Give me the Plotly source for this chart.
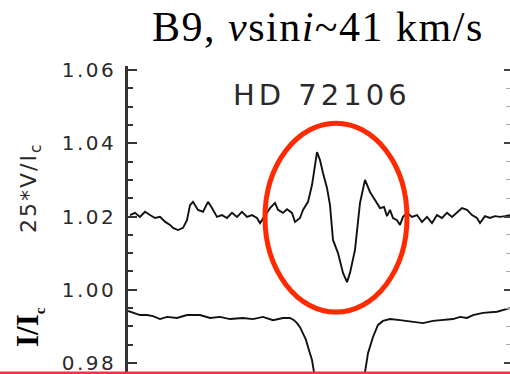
import numpy as np
import plotly.graph_objects as go

# ---------------- data (velocity in km/s, normalised values) ----------------
v_vel = [-208, -203, -198, -193, -188, -183, -178, -173, -168, -165, -160, -155, -151, -148,
         -145, -140, -135, -130, -126, -121, -116, -111, -106, -101, -96, -91, -86, -81, -78,
         -73, -68, -63, -60, -55, -51, -46, -43, -38, -35, -30, -26, -21, -18, -15, -11, -8,
         -5, 0, 5, 9, 12, 17, 22, 27, 32, 37, 42, 46, 49, 52, 55, 59, 62, 65, 69, 74, 79, 84,
         89, 94, 99, 104, 109, 114, 119, 124, 129, 134, 139, 142, 147, 152, 157, 162, 167, 172]
v_val = [1.0204, 1.0210, 1.0199, 1.0213, 1.0204, 1.0196, 1.0199, 1.0186, 1.0177, 1.0169,
         1.0163, 1.0169, 1.0190, 1.0231, 1.0240, 1.0218, 1.0213, 1.0240, 1.0223, 1.0199,
         1.0204, 1.0196, 1.0210, 1.0199, 1.0213, 1.0199, 1.0204, 1.0196, 1.0182, 1.0204,
         1.0223, 1.0237, 1.0218, 1.0210, 1.0220, 1.0210, 1.0185, 1.0196, 1.0218, 1.0240,
         1.0286, 1.0376, 1.0354, 1.0319, 1.0278, 1.0231, 1.0136, 1.0100, 1.0046, 1.0021,
         1.0046, 1.0109, 1.0237, 1.0300, 1.0267, 1.0245, 1.0223, 1.0226, 1.0201, 1.0218,
         1.0196, 1.0190, 1.0177, 1.0199, 1.0210, 1.0199, 1.0204, 1.0185, 1.0199, 1.0182,
         1.0204, 1.0196, 1.0210, 1.0199, 1.0210, 1.0223, 1.0218, 1.0204, 1.0196, 1.0182,
         1.0201, 1.0196, 1.0201, 1.0199, 1.0201, 1.0204]

i_vel = [-210, -205, -198, -191, -185, -178, -171, -161, -151, -138, -128, -118, -108, -95,
         -85, -75, -65, -55, -48, -44, -41, -38, -35, -32, -30, -26, -24, -22, -16, -8, 0,
         8, 16, 25, 27, 30, 35, 40, 45, 52, 62, 75, 85, 95, 105, 115, 122, 129, 135, 145,
         159, 172]
i_val = [0.9942, 0.9937, 0.9931, 0.9931, 0.9928, 0.9920, 0.9926, 0.9923, 0.9931, 0.9931,
         0.9923, 0.9926, 0.9920, 0.9923, 0.9920, 0.9926, 0.9917, 0.9923, 0.9923, 0.9917,
         0.9909, 0.9898, 0.9882, 0.9863, 0.9844, 0.9808, 0.9775, 0.9740, 0.9550, 0.9300,
         0.9200, 0.9300, 0.9550, 0.9740, 0.9775, 0.9827, 0.9871, 0.9904, 0.9915, 0.9920,
         0.9917, 0.9912, 0.9909, 0.9915, 0.9917, 0.9920, 0.9926, 0.9923, 0.9931, 0.9937,
         0.9940, 0.9950]

tick_vals = [0.98, 1.00, 1.02, 1.04, 1.06]
tick_text = ["0.98", "1.00", "1.02", "1.04", "1.06"]
minor_vals = [0.985, 0.990, 0.995, 1.005, 1.010, 1.015, 1.025, 1.030, 1.035, 1.045, 1.050, 1.055]

title_text = "B9, <i>v</i>sin<i>i</i>~41 km/s"
star_name = "HD 72106"
v_label = "25*V/I<sub>c</sub>"
i_label = '<b>I/I<sub><span style="font-size:15px">c</span></sub></b>'

# ellipse highlight (data coordinates)
ell_x = [-73, 69]
ell_y = [0.9939, 1.0455]

# ---------------- layout constants ----------------
W, H = 510, 374
ML, MR, MT, MB = 128, 0, 66, 0
PW, PH = W - ML - MR, H - MT - MB
x_range = [-210, 172]
y_range = [0.9770, 1.0611]
SANS = "DejaVu Sans"


def px_x(px):
    return (px - ML) / PW


def px_y(py):
    return (H - MB - py) / PH


def spaced(t, ls):
    return f'<span style="letter-spacing:{ls}px">{t}</span>'


fig = go.Figure()
fig.add_trace(go.Scatter(x=v_vel, y=v_val, mode="lines",
                         line=dict(color="#111111", width=1.9), showlegend=False,
                         hoverinfo="skip"))
fig.add_trace(go.Scatter(x=i_vel, y=i_val, mode="lines", yaxis="y2",
                         line=dict(color="#111111", width=1.9), showlegend=False,
                         hoverinfo="skip"))

fig.add_shape(type="circle", xref="x", yref="y", x0=ell_x[0], x1=ell_x[1],
              y0=ell_y[0], y1=ell_y[1], line=dict(color="#ff2a00", width=5))

# red rule at the bottom of the slide
fig.add_shape(type="rect", xref="paper", yref="paper", x0=px_x(0), x1=px_x(W),
              y0=px_y(374.5), y1=px_y(371.5), line=dict(width=0),
              fillcolor="#ef3349", layer="above")

axis_common = dict(range=y_range, showgrid=False, zeroline=False)

fig.update_layout(
    width=W, height=H,
    margin=dict(l=ML, r=MR, t=MT, b=MB, pad=0),
    paper_bgcolor="white", plot_bgcolor="white",
    xaxis=dict(range=x_range, visible=False),
    yaxis=dict(**axis_common, showline=True, linecolor="#333333", linewidth=2.5,
               tickmode="array", tickvals=tick_vals,
               ticktext=[spaced(t, 2.5) for t in tick_text],
               ticks="inside", ticklen=9, tickwidth=1.5, tickcolor="#333333",
               ticklabelstandoff=5, ticklabeloverflow="allow",
               tickfont=dict(family=SANS, size=20, color="#2a2a2a"),
               minor=dict(tickmode="array", tickvals=minor_vals, ticks="inside",
                          ticklen=5, tickwidth=1.5, tickcolor="#333333")),
    yaxis2=dict(**axis_common, overlaying="y", side="right", showline=False,
                tickmode="array", tickvals=tick_vals, showticklabels=False,
                ticks="inside", ticklen=6, tickwidth=1.5, tickcolor="#444444",
                minor=dict(tickmode="array", tickvals=minor_vals, ticks="inside",
                           ticklen=4, tickwidth=1.2, tickcolor="#aaaaaa")),
)

fig.add_annotation(text=spaced(title_text, 1.5), xref="paper", yref="paper",
                   x=px_x(150), y=px_y(27),
                   xanchor="left", yanchor="middle", showarrow=False,
                   font=dict(family="Liberation Serif, Times New Roman", size=42, color="black"))
fig.add_annotation(text=spaced(star_name, 4), xref="paper", yref="paper",
                   x=px_x(322), y=px_y(95), xanchor="center", yanchor="middle",
                   showarrow=False,
                   font=dict(family=SANS, size=29, color="#2a2a2a"))
fig.add_annotation(text=spaced(v_label, 2), xref="paper", yref="paper",
                   x=px_x(30), y=px_y(188), xanchor="center", yanchor="middle",
                   textangle=-90, showarrow=False,
                   font=dict(family=SANS, size=22, color="#2a2a2a"))
fig.add_annotation(text=i_label, xref="paper", yref="paper",
                   x=px_x(29), y=px_y(327), xanchor="center", yanchor="middle",
                   textangle=-90, showarrow=False,
                   font=dict(family="Liberation Serif, Times New Roman", size=31, color="black"))

fig.write_html("out.html")
